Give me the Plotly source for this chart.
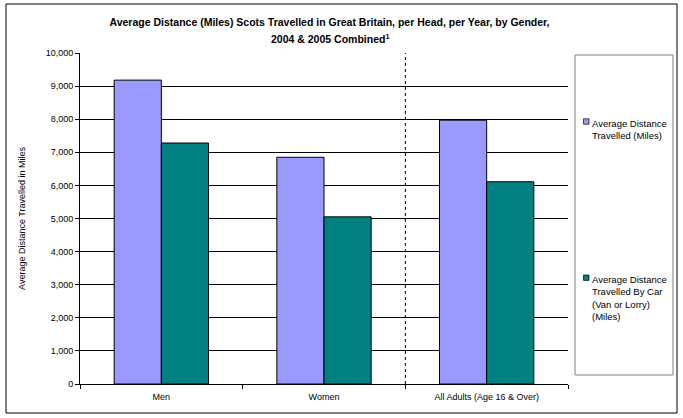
import plotly.graph_objects as go

# data
categories = ["Men", "Women", "All Adults (Age 16 & Over)"]
avg_distance = [9180, 6850, 7970]
avg_distance_car = [7280, 5050, 6110]
series_names = ["Average Distance<br>Travelled (Miles)",
                "Average Distance<br>Travelled By Car<br>(Van or Lorry)<br>(Miles)"]
series_colors = ["#9999FF", "#008080"]

FONT = "Arial, Liberation Sans, sans-serif"

fig = go.Figure()
for vals, name, col in zip([avg_distance, avg_distance_car], series_names, series_colors):
    fig.add_trace(go.Bar(
        x=categories, y=vals, name=name,
        marker=dict(color=col, line=dict(color="black", width=1)),
        showlegend=False,
    ))

# plot area in px: x 80..568, y 53..384
L, R, T, B = 80, 568, 53, 384
W, H = 683, 418
def px(x):
    return (x - L) / (R - L)
def py(y):
    return (B - y) / (B - T)

shapes = [
    # outer frame
    dict(type="rect", xref="paper", yref="paper", x0=px(6), x1=px(677), y0=py(413), y1=py(4),
         line=dict(color="black", width=1)),
    # legend box
    dict(type="rect", xref="paper", yref="paper", x0=px(575), x1=px(673), y0=py(375), y1=py(55),
         line=dict(color="#808080", width=1)),
    # dashed divider before "All Adults"
    dict(type="line", xref="x", yref="paper", x0=1.5, x1=1.5, y0=0, y1=1,
         line=dict(color="black", width=1, dash="3px,3px")),
]

annotations = [
    dict(xref="paper", yref="paper", x=px(329.5), y=py(38), yanchor="middle",
         text="<b>2004 & 2005 Combined<sup>1</sup></b>", showarrow=False,
         font=dict(family=FONT, size=10.5, color="black")),
]
legend_tops = [121.5, 277.7]
for top, name, col in zip(legend_tops, series_names, series_colors):
    shapes.append(dict(type="rect", xref="paper", yref="paper",
                       x0=px(583.5), x1=px(589), y0=py(top + 2.7), y1=py(top - 2.7),
                       fillcolor=col, line=dict(color="black", width=0.7)))
    annotations.append(dict(xref="paper", yref="paper", x=px(590), y=py(top - 6),
                            text=name, showarrow=False, xanchor="left", yanchor="top",
                            align="left", font=dict(family=FONT, size=9.5, color="black")))

fig.update_layout(
    width=W, height=H,
    margin=dict(l=L, r=W - R, t=T, b=H - B),
    paper_bgcolor="white", plot_bgcolor="white",
    barmode="group", bargap=0.42, bargroupgap=0,
    font=dict(family=FONT, size=9, color="black"),
    title=dict(
        text="<b>Average Distance (Miles) Scots Travelled in Great Britain, per Head, per Year, by Gender,</b>",
        x=px(329.5), xref="paper", xanchor="center",
        y=1 - 22 / H, yanchor="middle",
        font=dict(family=FONT, size=10.5, color="black"),
    ),
    xaxis=dict(
        type="category", tickson="boundaries", ticks="outside", ticklen=4,
        tickcolor="black", showline=True, linecolor="black", linewidth=1,
        showgrid=False, tickfont=dict(size=9), ticklabelstandoff=4,
    ),
    yaxis=dict(
        range=[0, 10000], dtick=1000, tickformat=",", ticks="outside", ticklen=4,
        tickcolor="black", showline=True, linecolor="black", linewidth=1,
        showgrid=True, gridcolor="black", gridwidth=1, zeroline=False,
        tickfont=dict(size=9),
        title=dict(text="Average Distance Travelled in Miles", font=dict(size=9), standoff=18),
    ),
    shapes=shapes,
    annotations=annotations,
)

fig.write_html("out.html", config={"displayModeBar": False},
               post_script="document.body.style.margin = '0';")
